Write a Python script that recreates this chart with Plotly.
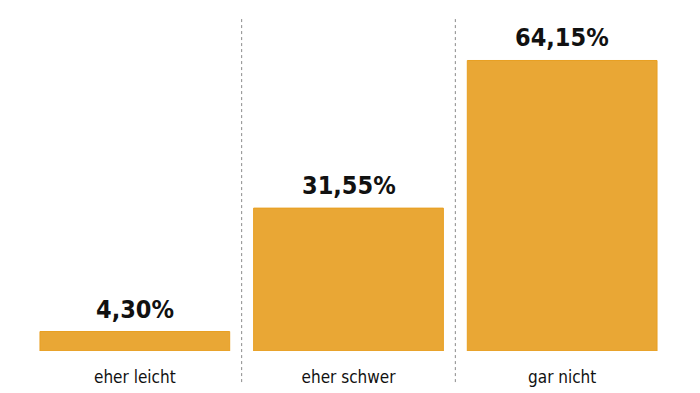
import plotly.graph_objects as go

categories = ["eher leicht", "eher schwer", "gar nicht"]
values = [4.30, 31.55, 64.15]
labels = ["4,30%", "31,55%", "64,15%"]

BAR = "#E9A735"
EDGE = "#E89F22"
FONT_B = "DejaVu Sans Condensed, sans-serif"

fig = go.Figure(go.Bar(
    x=categories, y=values,
    marker=dict(color=BAR, line=dict(color=EDGE, width=1)),
    hoverinfo="skip",
))

for c, v, t in zip(categories, values, labels):
    fig.add_annotation(x=c, y=v, text=t, showarrow=False, yanchor="bottom",
                       yshift=6,
                       font=dict(family=FONT_B, size=25, color="#111111", weight="bold"))

for xs in [0.5, 1.5]:
    fig.add_shape(type="line", xref="x", yref="paper", x0=xs, x1=xs,
                  y0=-0.098, y1=1.05,
                  line=dict(color="#8a8a8a", width=1, dash="dot"))

# page has an 8px body margin, so the figure is sized/offset to compensate
fig.update_layout(
    width=692, height=385,
    margin=dict(l=20, r=31, t=26, b=42, autoexpand=False),
    paper_bgcolor="white", plot_bgcolor="white",
    bargap=0.112, showlegend=False,
    xaxis=dict(showgrid=False, showline=False, zeroline=False,
               tickfont=dict(family=FONT_B, size=17, color="#111111"),
               ticks="", ticklabelstandoff=14, range=[-0.5, 2.5]),
    yaxis=dict(visible=False, range=[0, 70]),
)

fig.write_html("out.html")
